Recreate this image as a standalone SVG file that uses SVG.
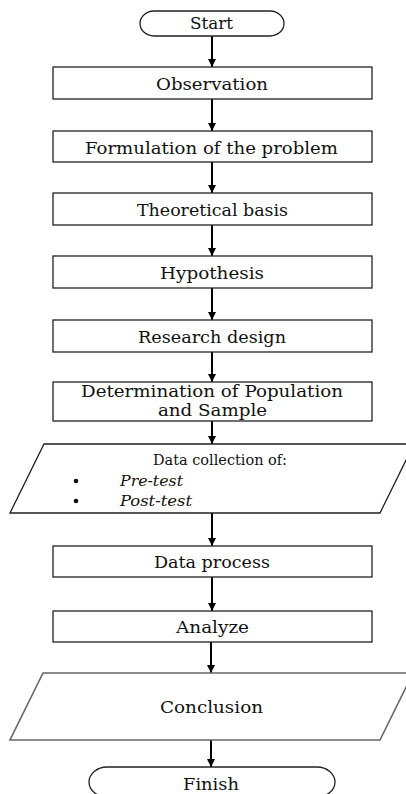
<svg xmlns="http://www.w3.org/2000/svg" width="406" height="794" viewBox="0 0 406 794">
<defs>
<marker id="ah" viewBox="0 0 10 10" refX="10" refY="5" markerWidth="4" markerHeight="4" markerUnits="strokeWidth" orient="auto">
<path d="M0,0 L10,5 L0,10 z" fill="#000"/>
</marker>
<style>
.box{fill:#fff;stroke:#222;stroke-width:1.3}
.gbox{fill:#fff;stroke:#666;stroke-width:1.6}
.t{font-family:"DejaVu Serif","Liberation Serif",serif;font-size:16px;fill:#111;text-anchor:middle}
.ts{font-family:"DejaVu Serif","Liberation Serif",serif;font-size:15px;fill:#111;text-anchor:middle}
.ti{font-family:"DejaVu Serif","Liberation Serif",serif;font-size:15px;font-style:italic;fill:#111}
.c{stroke:#000;stroke-width:2;fill:none;marker-end:url(#ah)}
</style>
</defs>
<rect width="406" height="794" fill="#fff"/>
<g id="connectors">
<line class="c" x1="212" y1="36" x2="212" y2="67"/>
<line class="c" x1="212" y1="99" x2="212" y2="131"/>
<line class="c" x1="212" y1="162" x2="212" y2="193"/>
<line class="c" x1="212" y1="225" x2="212" y2="256"/>
<line class="c" x1="212" y1="288" x2="212" y2="320"/>
<line class="c" x1="212" y1="352" x2="212" y2="382"/>
<line class="c" x1="212" y1="421" x2="212" y2="444"/>
<line class="c" x1="212" y1="513" x2="212" y2="546"/>
<line class="c" x1="212" y1="577" x2="212" y2="611"/>
<line class="c" x1="211" y1="642" x2="211" y2="673"/>
<line class="c" x1="211" y1="740" x2="211" y2="767"/>
</g>
<g id="start">
<rect class="box" x="140" y="11" width="144" height="25" rx="14" ry="12.5"/>
<text class="t" x="211.5" y="28.5" textLength="43" lengthAdjust="spacingAndGlyphs">Start</text>
</g>
<g id="observation">
<rect class="box" x="53" y="67" width="319" height="32"/>
<text class="t" x="212" y="90" textLength="112" lengthAdjust="spacingAndGlyphs">Observation</text>
</g>
<g id="formulation">
<rect class="box" x="53" y="131" width="319" height="31"/>
<text class="t" x="211.5" y="154" textLength="253" lengthAdjust="spacingAndGlyphs">Formulation of the problem</text>
</g>
<g id="theoretical">
<rect class="box" x="53" y="193" width="319" height="32"/>
<text class="t" x="212.5" y="215.5" textLength="151" lengthAdjust="spacingAndGlyphs">Theoretical basis</text>
</g>
<g id="hypothesis">
<rect class="box" x="53" y="256" width="319" height="32"/>
<text class="t" x="212" y="278.5" textLength="104" lengthAdjust="spacingAndGlyphs">Hypothesis</text>
</g>
<g id="research">
<rect class="box" x="53" y="320" width="319" height="32"/>
<text class="t" x="212" y="342.5" textLength="148" lengthAdjust="spacingAndGlyphs">Research design</text>
</g>
<g id="determination">
<rect class="box" x="53" y="382" width="319" height="39"/>
<text class="t" x="212" y="397" textLength="262" lengthAdjust="spacingAndGlyphs">Determination of Population</text>
<text class="t" x="212.5" y="416" textLength="109" lengthAdjust="spacingAndGlyphs">and Sample</text>
</g>
<g id="datacollection">
<polygon class="box" points="44,444 414,444 380,513 10,513"/>
<text class="ts" x="220" y="465" textLength="134" lengthAdjust="spacingAndGlyphs">Data collection of:</text>
<circle cx="76" cy="481" r="2.3" fill="#111"/>
<circle cx="76" cy="501" r="2.3" fill="#111"/>
<text class="ti" x="120" y="485.5" textLength="63" lengthAdjust="spacingAndGlyphs">Pre-test</text>
<text class="ti" x="120" y="505.5" textLength="72" lengthAdjust="spacingAndGlyphs">Post-test</text>
</g>
<g id="dataprocess">
<rect class="box" x="53" y="546" width="319" height="31"/>
<text class="t" x="212" y="567.5" textLength="116" lengthAdjust="spacingAndGlyphs">Data process</text>
</g>
<g id="analyze">
<rect class="box" x="53" y="611" width="319" height="31"/>
<text class="t" x="212.5" y="633" textLength="73" lengthAdjust="spacingAndGlyphs">Analyze</text>
</g>
<g id="conclusion">
<polygon class="gbox" points="43,673 413,673 380,740 10,740"/>
<text class="t" x="211.5" y="713" textLength="103" lengthAdjust="spacingAndGlyphs">Conclusion</text>
</g>
<g id="finish">
<rect class="box" x="89" y="767" width="246" height="30" rx="18" ry="15"/>
<text class="t" x="211" y="790" textLength="56" lengthAdjust="spacingAndGlyphs">Finish</text>
</g>
</svg>
